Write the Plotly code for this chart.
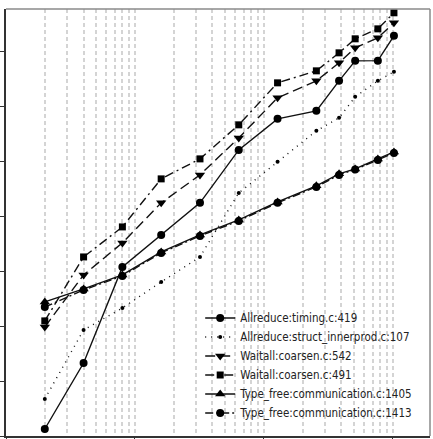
import plotly.graph_objects as go

# Number of processes (x, log scale)
procs = [2, 4, 8, 16, 32, 64, 128, 256, 384, 512, 768, 1024]

# Times per call site (y, log scale; tick labels are not shown in the reference)
allreduce_timing_419 = [0.00134, 0.0214, 1.20, 4.61, 17.7, 163, 600, 840, 2960, 6850, 6900, 19550]
allreduce_innerprod_107 = [0.00472, 0.0855, 0.215, 0.641, 1.83, 26.9, 98.8, 363, 627, 1510, 2960, 4315]
waitall_coarsen_542 = [0.097, 0.861, 3.30, 17.7, 57.2, 270, 1450, 2960, 6300, 11800, 18000, 33700]
waitall_coarsen_491 = [0.125, 1.83, 6.45, 48.4, 112, 467, 2720, 4500, 9580, 17250, 26200, 51400]
type_free_1405 = [0.277, 0.479, 0.861, 2.26, 4.61, 8.65, 18.4, 36.1, 59.7, 73.6, 112, 150]
type_free_1413 = [0.224, 0.458, 0.826, 2.17, 4.42, 8.30, 17.7, 34.6, 57.2, 72.0, 107, 144]

names = [
    "Allreduce:timing.c:419",
    "Allreduce:struct_innerprod.c:107",
    "Waitall:coarsen.c:542",
    "Waitall:coarsen.c:491",
    "Type_free:communication.c:1405",
    "Type_free:communication.c:1413",
]
series = [allreduce_timing_419, allreduce_innerprod_107, waitall_coarsen_542,
          waitall_coarsen_491, type_free_1405, type_free_1413]
symbols = ["circle", "circle", "triangle-down", "square", "triangle-up", "circle"]
msizes = [8, 4, 9, 7, 9, 8]
dashes = ["solid", "1px,5px", "10px,5px", "9px,4px,2px,4px", "solid", "8px,3px,2px,3px"]

fig = go.Figure()
for nm, ys, sym, ms, ds in zip(names, series, symbols, msizes, dashes):
    fig.add_trace(go.Scatter(
        x=procs, y=ys, name=nm, mode="lines+markers",
        line=dict(color="#111111", width=1.4, dash=ds),
        marker=dict(symbol=sym, size=ms, color="#000000", line=dict(width=0)),
    ))

grid_style = dict(gridcolor="#d4d4d4", gridwidth=1.5, griddash="4px,3px")

fig.update_layout(
    width=433, height=439,
    margin=dict(l=6, r=3, t=9, b=3),
    paper_bgcolor="white", plot_bgcolor="white",
    showlegend=True,
    legend=dict(
        x=0.458, y=0.02, xanchor="left", yanchor="bottom",
        bgcolor="rgba(0,0,0,0)", borderwidth=0,
        font=dict(family="DejaVu Sans Condensed, Liberation Sans, DejaVu Sans", size=11.5, color="#222"),
    ),
    xaxis=dict(
        type="log", range=[0, 3.29], dtick=1, automargin=False,
        showticklabels=False, ticks="outside", ticklen=5, tickcolor="#333",
        showline=True, linecolor="#333", linewidth=1.5,
        showgrid=True, **grid_style,
        minor=dict(dtick="D1", showgrid=True, ticks="", **grid_style),
        zeroline=False,
    ),
    yaxis=dict(
        type="log", range=[-3, 4.78], dtick=1, automargin=False,
        showticklabels=False, ticks="outside", ticklen=5, tickcolor="#333",
        showline=True, linecolor="#333", linewidth=1.5,
        showgrid=False, zeroline=False,
    ),
    shapes=[
        dict(type="line", xref="paper", yref="paper", x0=0, x1=1, y0=1, y1=1,
             line=dict(color="#8a8a8a", width=1.5)),
        dict(type="line", xref="paper", yref="paper", x0=1, x1=1, y0=0, y1=1,
             line=dict(color="#8a8a8a", width=1.5)),
    ],
)

fig.write_html("out.html")
